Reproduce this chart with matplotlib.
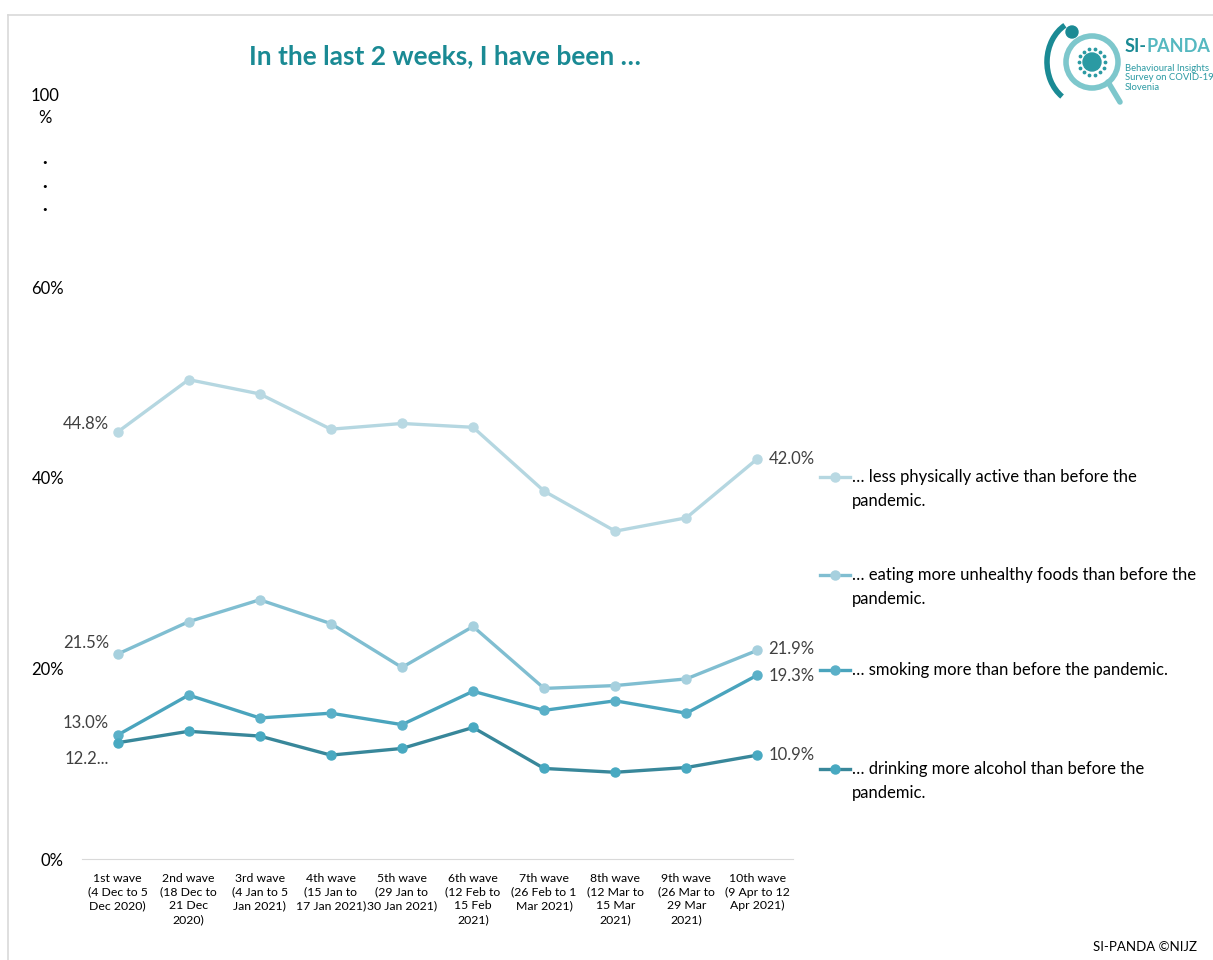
import numpy as np
import matplotlib.pyplot as plt
from matplotlib.lines import Line2D
from matplotlib.patches import Circle, Arc

plt.rcParams['font.family'] = ['Lato', 'DejaVu Sans']

waves = ["1st wave\n(4 Dec to 5\nDec 2020)", "2nd wave\n(18 Dec to\n21 Dec\n2020)",
         "3rd wave\n(4 Jan to 5\nJan 2021)", "4th wave\n(15 Jan to\n17 Jan 2021)",
         "5th wave\n(29 Jan to\n30 Jan 2021)", "6th wave\n(12 Feb to\n15 Feb\n2021)",
         "7th wave\n(26 Feb to 1\nMar 2021)", "8th wave\n(12 Mar to\n15 Mar\n2021)",
         "9th wave\n(26 Mar to\n29 Mar\n2021)", "10th wave\n(9 Apr to 12\nApr 2021)"]

less_active = [44.8, 50.3, 48.8, 45.1, 45.7, 45.3, 38.6, 34.4, 35.8, 42.0]
unhealthy_food = [21.5, 24.9, 27.2, 24.7, 20.1, 24.4, 17.9, 18.2, 18.9, 21.9]
smoking = [13.0, 17.2, 14.8, 15.3, 14.1, 17.6, 15.6, 16.6, 15.3, 19.3]
alcohol = [12.2, 13.4, 12.9, 10.9, 11.6, 13.8, 9.5, 9.1, 9.6, 10.9]

series_labels = ["… less physically active than before the\npandemic.",
                 "… eating more unhealthy foods than before the\npandemic.",
                 "… smoking more than before the pandemic.",
                 "… drinking more alcohol than before the\npandemic."]

W, H = 1213, 960
fig = plt.figure(figsize=(W / 100, H / 100), dpi=100)
ax = fig.add_axes([82 / W, 1 - 859 / H, (793 - 82) / W, (859 - 96.6) / H])

styles = [
    (less_active, "#b5d7e1", "#b9d9e3"),
    (unhealthy_food, "#80bed1", "#a6d0de"),
    (smoking, "#4aa4bd", "#5ab0c8"),
    (alcohol, "#38879a", "#48a9c1"),
]
x = np.arange(len(waves))
for vals, lc, mc in styles:
    ax.plot(x, vals, color=lc, lw=2.4, marker="o", ms=6.5,
            mfc=mc, mec=mc, solid_capstyle="round", zorder=3)

ax.set_xlim(-0.5, len(waves) - 0.5)
ax.set_ylim(0, 80)
ax.set_xticks(x)
ax.set_xticklabels(waves, fontsize=8.8, linespacing=1.3)
ax.set_yticks([0, 20, 40, 60])
ax.set_yticklabels(["0%", "20%", "40%", "60%"], fontsize=12)
ax.tick_params(axis="both", length=0, colors="#000000")
ax.tick_params(axis="y", pad=13)
ax.tick_params(axis="x", pad=10)
for s in ["top", "right", "left"]:
    ax.spines[s].set_visible(False)
ax.spines["bottom"].set_color("#d9d9d9")

# broken-axis top label
xl = (45 - 82) / (793 - 82)
ax.text(xl, 78.9, "100\n%", transform=ax.get_yaxis_transform(), ha="center",
        va="center", fontsize=12, linespacing=1.45)
for yv in [73.0, 70.5, 68.1]:
    ax.text(xl, yv, "·", transform=ax.get_yaxis_transform(), ha="center",
            va="center", fontsize=12, fontweight="bold")

# value labels at first and last wave
lab = dict(fontsize=12, color="#404040")
ax.annotate(f"{less_active[0]:.1f}%", (0, less_active[0]), xytext=(-6, 6),
            textcoords="offset points", ha="right", va="center", **lab)
ax.annotate(f"{unhealthy_food[0]:.1f}%", (0, unhealthy_food[0]), xytext=(-6, 8),
            textcoords="offset points", ha="right", va="center", **lab)
ax.annotate(f"{smoking[0]:.1f}%", (0, smoking[0]), xytext=(-6, 9),
            textcoords="offset points", ha="right", va="center", **lab)
ax.annotate(f"{alcohol[0]:.1f}"[:4] + "...", (0, alcohol[0]), xytext=(-6, -12),
            textcoords="offset points", ha="right", va="center", **lab)
ax.annotate(f"{less_active[-1]:.1f}%", (9, less_active[-1]), xytext=(8, 0),
            textcoords="offset points", ha="left", va="center", **lab)
ax.annotate(f"{unhealthy_food[-1]:.1f}%", (9, unhealthy_food[-1]), xytext=(8, 1),
            textcoords="offset points", ha="left", va="center", **lab)
ax.annotate(f"{smoking[-1]:.1f}%", (9, smoking[-1]), xytext=(8, -1),
            textcoords="offset points", ha="left", va="center", **lab)
ax.annotate(f"{alcohol[-1]:.1f}%", (9, alcohol[-1]), xytext=(8, 0),
            textcoords="offset points", ha="left", va="center", **lab)

# legend on the right, handle next to first text line
leg_y = [477, 575, 670, 769]
for (vals, lc, mc), lbl, yp in zip(styles, series_labels, leg_y):
    fy = 1 - yp / H
    fig.add_artist(Line2D([820 / W, 850 / W], [fy, fy], color=lc, lw=2.4,
                          transform=fig.transFigure))
    fig.add_artist(Line2D([835 / W], [fy], color=mc, marker="o", ms=6.5,
                          transform=fig.transFigure))
    fig.text(852 / W, fy + 0.0085, lbl, ha="left", va="top", fontsize=12,
             linespacing=1.6)

fig.text(445 / W, 1 - 56 / H, "In the last 2 weeks, I have been …",
         ha="center", va="center", fontsize=19, fontweight="bold", color="#1a8a94")
fig.text(1145 / W, 1 - 947 / H, "SI-PANDA ©NIJZ", ha="center", va="center",
         fontsize=9.5, color="#000000")

# frame lines at top and left
fig.add_artist(Line2D([8 / W, 1], [1 - 15 / H, 1 - 15 / H], color="#d9d9d9",
                      lw=1.2, transform=fig.transFigure))
fig.add_artist(Line2D([8 / W, 8 / W], [0, 1 - 15 / H], color="#d9d9d9",
                      lw=1.2, transform=fig.transFigure))

# logo
lax = fig.add_axes([1040 / W, 1 - 120 / H, 173 / W, 110 / H])
lax.set_xlim(1040, 1213)
lax.set_ylim(120, 10)
lax.set_aspect("equal")
lax.axis("off")
lax.add_patch(Arc((1082, 62), 70, 84, theta1=120, theta2=245, color="#1a8a94", lw=4))
lax.add_patch(Circle((1072, 32), 6, color="#1a8a94"))
lax.add_patch(Circle((1092, 62), 26, fill=False, ec="#7dc7cc", lw=4))
lax.plot([1108, 1120], [82, 102], color="#7dc7cc", lw=4, solid_capstyle="round")
lax.add_patch(Circle((1092, 62), 9, color="#2b9aa3"))
ang = np.linspace(0, 2 * np.pi, 14, endpoint=False)
lax.scatter(1092 + 13 * np.cos(ang), 62 + 13 * np.sin(ang), s=3, color="#2b9aa3")
lax.text(1125, 46, "SI-", fontsize=13, fontweight="bold", color="#1a8a94",
         va="center", ha="left")
lax.text(1146, 46, "PANDA", fontsize=13, fontweight="bold", color="#55b8c0",
         va="center", ha="left", clip_on=False)
lax.text(1125, 78, "Behavioural Insights\nSurvey on COVID-19\nSlovenia", fontsize=6.8,
         color="#2b9aa3", va="center", ha="left", linespacing=1.1)

fig.savefig("out.png", dpi=100)
